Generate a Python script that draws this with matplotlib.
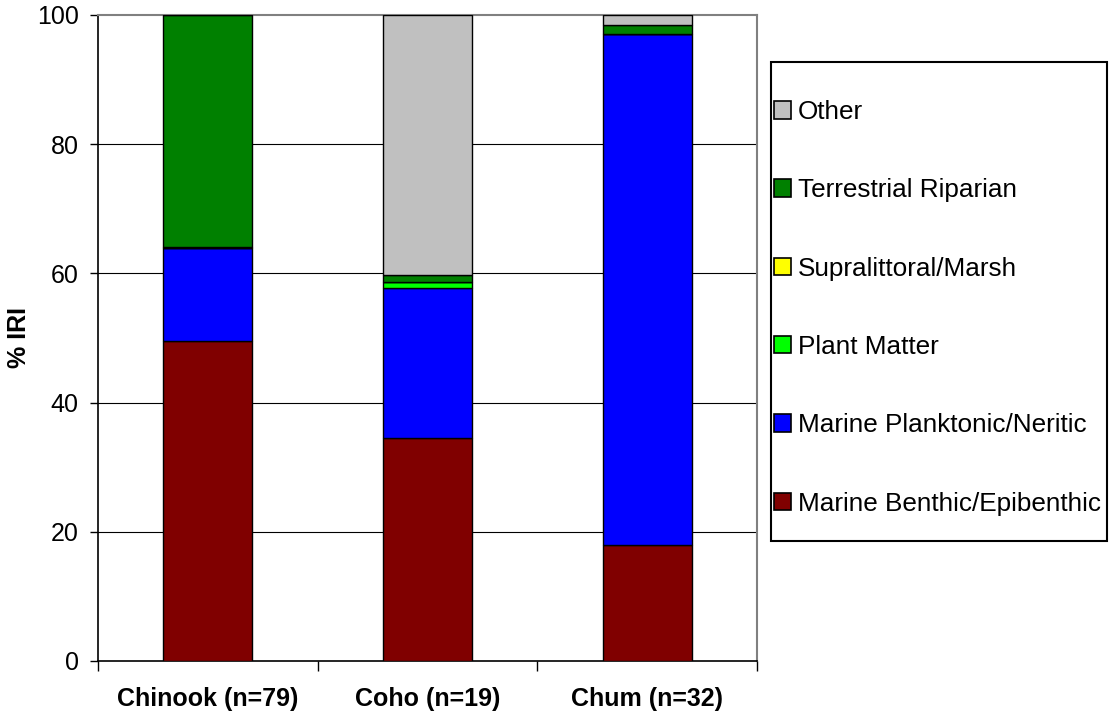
import matplotlib
matplotlib.use("Agg")
import matplotlib.pyplot as plt
from matplotlib.patches import Rectangle, Patch
import numpy as np

plt.rcParams['font.family'] = ['Liberation Sans', 'DejaVu Sans']

categories = ['Chinook (n=79)', 'Coho (n=19)', 'Chum (n=32)']
series_names = ['Marine Benthic/Epibenthic', 'Marine Planktonic/Neritic', 'Plant Matter',
                'Supralittoral/Marsh', 'Terrestrial Riparian', 'Other']
benthic = [49.6, 34.5, 18.0]
planktonic = [14.3, 23.2, 79.0]
plant = [0.0, 0.9, 0.0]
supralittoral = [0.2, 0.1, 0.0]
terrestrial = [35.9, 1.1, 1.5]
other = [0.0, 40.2, 1.5]
y_ticks = [0, 20, 40, 60, 80, 100]

colors = ['#800000', '#0000FF', '#00FF00', '#FFFF00', '#008000', '#C0C0C0']
values = [benthic, planktonic, plant, supralittoral, terrestrial, other]

W, H = 1112, 721
fig = plt.figure(figsize=(W / 100, H / 100), dpi=100)
ax = fig.add_axes([98 / W, 1 - 661 / H, (757 - 98) / W, (661 - 15) / H])

x = np.arange(len(categories))
bottom = np.zeros(len(categories))
for name, vals, col in zip(series_names, values, colors):
    vals = np.array(vals)
    ax.bar(x, vals, width=0.405, bottom=bottom, color=col, edgecolor='black',
           linewidth=1.0, zorder=3)
    bottom += vals

ax.set_xlim(-0.5, len(categories) - 0.5)
ax.set_ylim(0, 100)
ax.set_yticks(y_ticks)
ax.set_yticklabels([str(t) for t in y_ticks], fontsize=18)
for t in y_ticks[1:-1]:
    ax.axhline(t, color='black', linewidth=0.8, zorder=1)

ax.set_xticks(np.arange(len(categories) + 1) - 0.5)
ax.set_xticklabels([])
ax.set_xticks(x, minor=True)
ax.set_xticklabels(categories, minor=True, fontsize=18, fontweight='bold')
ax.tick_params(axis='x', which='minor', length=0, pad=19)
ax.tick_params(axis='x', which='major', length=7, width=1, direction='out', color='black')
ax.tick_params(axis='y', length=6, width=1, direction='out', pad=8)

for s in ['top', 'right']:
    ax.spines[s].set_color('#808080')
    ax.spines[s].set_linewidth(1.5)
for s in ['left', 'bottom']:
    ax.spines[s].set_color('black')
    ax.spines[s].set_linewidth(1.2)

fig.text(19 / W, 1 - 338 / H, '% IRI', fontsize=18, fontweight='bold',
         rotation=90, ha='center', va='center')

# legend frame and entries (top entry first)
fig.patches.append(Rectangle((771 / W, 1 - 541 / H), (1107 - 771) / W, (541 - 62) / H,
                             transform=fig.transFigure, facecolor='white',
                             edgecolor='black', linewidth=1.5, zorder=0))
handles = [Patch(facecolor=c, edgecolor='black', linewidth=1.2) for c in colors[::-1]]
fig.legend(handles, series_names[::-1], loc='upper left',
           bbox_to_anchor=(774 / W, 1 - 100 / H), frameon=False, fontsize=18.8,
           handlelength=0.65, handleheight=0.65, handletextpad=0.25,
           labelspacing=2.08, borderpad=0, borderaxespad=0)

fig.savefig('out.png', dpi=100)
